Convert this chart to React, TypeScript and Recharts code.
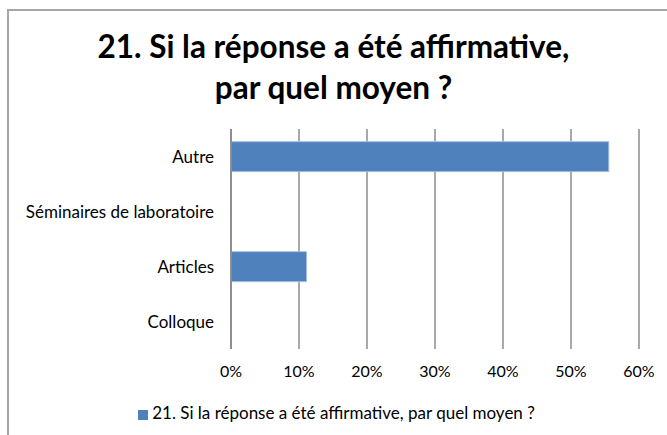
import React from "react";
import { BarChart, Bar, XAxis, YAxis, CartesianGrid, Legend } from "recharts";

// Categories, top to bottom as drawn
const categories = ["Autre", "Séminaires de laboratoire", "Articles", "Colloque"];
// Share of answers per category
const shares = [0.5556, 0, 0.1111, 0];
const xTicks = [0, 0.1, 0.2, 0.3, 0.4, 0.5, 0.6];

const seriesName = "21. Si la réponse a été affirmative, par quel moyen ?";
const FONT = "Lato, 'Open Sans', sans-serif";

const chartData = categories.map((name, i) => ({ name, value: shares[i] }));

const App: React.FC = () => {
    return (
        <div style={{ position: "absolute", left: 0, top: 0, width: 667, height: 435, background: "#fff", overflow: "hidden", fontFamily: FONT }}>
            {/* outer frame, cut off at right and bottom */}
            <div style={{ position: "absolute", left: 7, top: 9, width: 700, height: 500, border: "2px solid #a6a6a6" }} />
            <div style={{ position: "absolute", left: 0, top: 26, width: 667, textAlign: "center", fontWeight: 700, fontSize: 31.5, lineHeight: "41px", color: "#000" }}>
                21. Si la réponse a été affirmative,
                <br />
                par quel moyen ?
            </div>
            <BarChart
                width={667}
                height={435}
                data={chartData}
                layout="vertical"
                margin={{ top: 129, right: 28, bottom: 0, left: 0 }}
                barCategoryGap="23%"
                style={{ position: "absolute", left: 0, top: 0 }}
            >
                <CartesianGrid horizontal={false} stroke="#8c8c8c" strokeWidth={1.5} />
                <XAxis
                    type="number"
                    domain={[0, 0.6]}
                    ticks={xTicks}
                    tickFormatter={(v: number) => `${Math.round(v * 100)}%`}
                    axisLine={false}
                    tickLine={false}
                    tickMargin={11}
                    height={65}
                    tick={{ fill: "#000", fontSize: 16, fontFamily: FONT }}
                    interval={0}
                />
                <YAxis
                    type="category"
                    dataKey="name"
                    width={231}
                    axisLine={{ stroke: "#868686", strokeWidth: 1.5 }}
                    tickLine={false}
                    tickMargin={11}
                    tick={{ fill: "#000", fontSize: 17, fontFamily: FONT }}
                    interval={0}
                />
                <Legend
                    verticalAlign="bottom"
                    align="center"
                    iconType="square"
                    iconSize={10}
                    wrapperStyle={{ bottom: 12, left: 8, width: 667, fontSize: 17, fontFamily: FONT }}
                    formatter={(v: string) => <span style={{ color: "#000" }}>{v}</span>}
                />
                <Bar
                    dataKey="value"
                    name={seriesName}
                    fill="#4f81bd"
                    stroke="#a7bfde"
                    strokeWidth={1}
                    isAnimationActive={false}
                />
            </BarChart>
        </div>
    );
};

export default App;
